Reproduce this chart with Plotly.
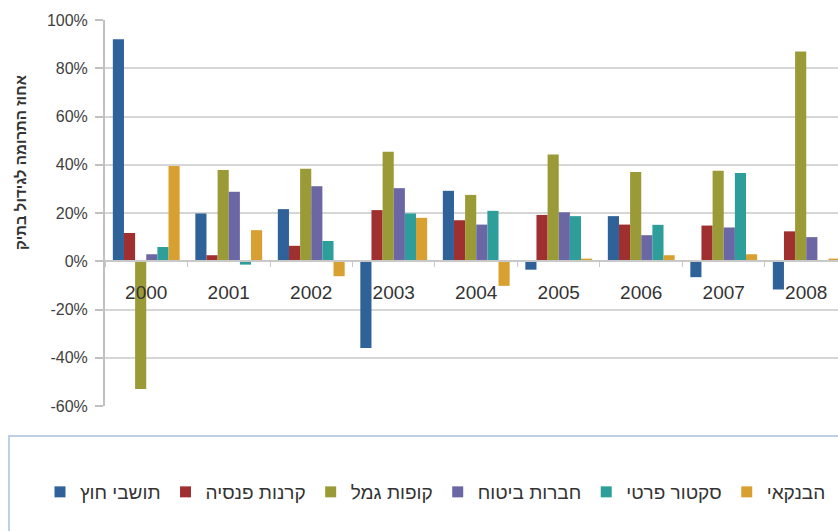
import plotly.graph_objects as go

# Years on the category axis
years = ["2000", "2001", "2002", "2003", "2004", "2005", "2006", "2007", "2008"]

# Contribution of each sector to portfolio growth (fractions)
foreign_residents = [0.92, 0.198, 0.216, -0.36, 0.292, -0.035, 0.187, -0.066, -0.117]
pension_funds = [0.117, 0.025, 0.064, 0.212, 0.170, 0.192, 0.152, 0.148, 0.124]
provident_funds = [-0.53, 0.378, 0.383, 0.454, 0.275, 0.443, 0.370, 0.375, 0.869]
insurance_companies = [0.029, 0.288, 0.311, 0.303, 0.152, 0.203, 0.108, 0.140, 0.100]
private_sector = [0.059, -0.014, 0.084, 0.198, 0.209, 0.187, 0.151, 0.366, 0.003]
banking = [0.395, 0.129, -0.062, 0.180, -0.102, 0.011, 0.025, 0.029, 0.011]

series_names = ["תושבי חוץ", "קרנות פנסיה", "קופות גמל", "חברות ביטוח", "סקטור פרטי", "הבנקאי"]
series_values = [foreign_residents, pension_funds, provident_funds,
                 insurance_companies, private_sector, banking]
series_colors = ["#2E6299", "#A0302F", "#9A9B36", "#6B66A4", "#2E9E9B", "#D8A030"]

# Y axis ticks
y_tick_vals = [-0.6, -0.4, -0.2, 0.0, 0.2, 0.4, 0.6, 0.8, 1.0]
y_tick_text = ["-60%", "-40%", "-20%", "0%", "20%", "40%", "60%", "80%", "100%"]

y_title = "אחוז התרומה לגידול בתיק"

fig = go.Figure()

for name, vals, color in zip(series_names, series_values, series_colors):
    fig.add_trace(go.Bar(
        x=years, y=vals, name=name,
        marker=dict(color=color, line=dict(width=0)),
        showlegend=False,
    ))

# Small square legend keys
for name, color in zip(series_names, series_colors):
    fig.add_trace(go.Scatter(
        x=[None], y=[None], mode="markers", name=name,
        marker=dict(symbol="square", size=11, color=color),
        showlegend=True,
    ))

W, H = 838, 531
ML, MR, MT, MB = 105, 0, 20, 125
plot_w = W - ML - MR
plot_h = H - MT - MB


def px_x(px):
    return (px - ML) / plot_w


def px_y(py):
    return (H - MB - py) / plot_h


fig.update_layout(
    width=W, height=H,
    margin=dict(l=ML, r=MR, t=MT, b=MB),
    paper_bgcolor="white", plot_bgcolor="white",
    barmode="group", bargap=0.19, bargroupgap=0.0,
    font=dict(family="Liberation Sans, Arial, sans-serif", color="#3A3A3A"),
    xaxis=dict(
        type="category",
        range=[-0.5, 8.385],
        anchor="free", position=0.375,
        showline=True, linecolor="#C8C8C8", linewidth=2,
        ticks="outside", tickson="boundaries", ticklen=5,
        tickcolor="#C8C8C8", tickwidth=1,
        showgrid=False,
        tickfont=dict(size=19, color="#333333"),
        ticklabelstandoff=14,
    ),
    yaxis=dict(
        range=[-0.6, 1.0],
        tickvals=y_tick_vals, ticktext=y_tick_text,
        showgrid=True, gridcolor="#D6D6D6", gridwidth=2,
        zeroline=False,
        showline=True, linecolor="#C0C0C0", linewidth=2,
        ticks="outside", ticklen=8, tickcolor="#C0C0C0", tickwidth=2,
        tickfont=dict(size=16, color="#404040"),
        ticklabelstandoff=4,
    ),
    legend=dict(
        orientation="h",
        x=px_x(40), y=px_y(492), xanchor="left", yanchor="middle",
        font=dict(size=19, color="#333333"),
        bgcolor="rgba(0,0,0,0)",
        itemwidth=30,
    ),
    annotations=[dict(
        text="<b>" + y_title + "</b>",
        xref="paper", yref="paper",
        x=px_x(20), y=px_y(163),
        textangle=-90, showarrow=False,
        font=dict(size=15, color="#333333"),
        xanchor="center", yanchor="middle",
    )],
    shapes=[dict(
        type="rect", xref="paper", yref="paper",
        x0=px_x(9), x1=px_x(860), y0=px_y(436), y1=px_y(560),
        line=dict(color="#BDD0E8", width=2),
        fillcolor="rgba(0,0,0,0)", layer="below",
    )],
)

fig.write_html("out.html")
